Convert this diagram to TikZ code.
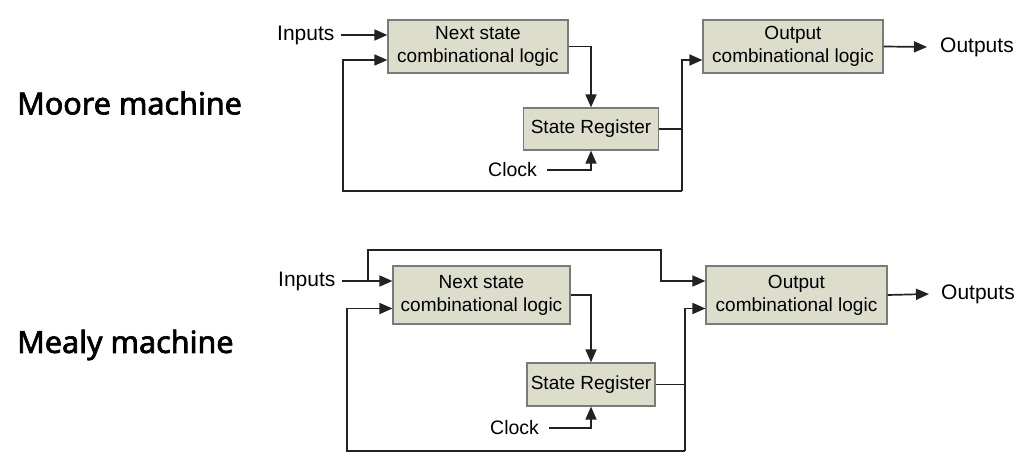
\documentclass[tikz,border=0pt]{standalone}
\usepackage{fontspec}
\setmainfont{Liberation Sans}
\newfontfamily\headfont[FakeBold=2.2]{Noto Sans}
\usetikzlibrary{arrows.meta,calc}
\definecolor{boxfill}{HTML}{DCDDCB}
\definecolor{boxline}{HTML}{7A7A7A}
\definecolor{wire}{HTML}{222222}
\tikzset{
  logicbox/.style={draw=boxline, fill=boxfill, line width=1.2pt, inner sep=0pt,
    align=center, font=\fontsize{19}{23}\selectfont},
  lbl/.style={inner sep=0pt, anchor=west, font=\fontsize{21}{23}\selectfont},
  clk/.style={inner sep=0pt, anchor=west, font=\fontsize{19.5}{23}\selectfont},
  head/.style={inner sep=0pt, anchor=west, font=\headfont\fontsize{30.5}{36}\selectfont},
  wirel/.style={draw=wire, line width=1.7pt},
  arr/.style={wirel, -{Triangle[length=13pt,width=11pt]}},
}
\begin{document}
\begin{tikzpicture}[x=1pt,y=-1pt]
\useasboundingbox (0,0) rectangle (1035,462);
% ---------- Moore ----------
\node[head] (mHead) at (17,103) {Moore machine};
\node[logicbox, minimum width=180pt, minimum height=53pt] (mNS) at (478,46.5) {Next state\\combinational logic};
\node[logicbox, minimum width=135pt, minimum height=42pt] (mSR) at (591,129) {State Register};
\node[logicbox, minimum width=180pt, minimum height=53pt] (mOut) at (793,46.5) {Output\\combinational logic};
\node[lbl] (mIn) at (277,35) {Inputs};
\node[clk] (mClk) at (488,170) {Clock};
\node[lbl] (mOutT) at (940,47) {Outputs};
\coordinate (mV) at (682,191);
\coordinate (mL) at (343,191);
\draw[arr] ([xshift=6pt]mIn.east) -- (mIn.east -| mNS.west);
\draw[arr] (mNS.east) -| (mSR.north);
\draw[arr] ([xshift=10pt]mClk.east) -| (mSR.south);
\draw[wirel] (mSR.east) -- (mSR.east -| mV);
\draw[arr] (mV) -- (mL) |- ([yshift=-13.5pt]mNS.west);
\draw[arr] (mV) |- ([yshift=-13.5pt]mOut.west);
\draw[arr] (mOut.east) -- ([xshift=-13pt]mOutT.west);
% ---------- Mealy ----------
\node[head] (eHead) at (17,345) {Mealy machine};
\node[logicbox, minimum width=177pt, minimum height=58pt] (eNS) at (481.5,295) {Next state\\combinational logic};
\node[logicbox, minimum width=128pt, minimum height=43pt] (eSR) at (591,384.5) {State Register};
\node[logicbox, minimum width=181pt, minimum height=58pt] (eOut) at (796.5,295) {Output\\combinational logic};
\node[lbl] (eIn) at (278,281) {Inputs};
\node[clk] (eClk) at (490,428) {Clock};
\node[lbl] (eOutT) at (941,294) {Outputs};
\coordinate (eJ) at (368,281);
\coordinate (eT1) at (368,250);
\coordinate (eT2) at (661,250);
\coordinate (eV) at (685,451);
\coordinate (eL) at (347,451);
\draw[arr] ([xshift=6pt]eIn.east) -- (eIn.east -| eNS.west);
\draw[arr] (eJ) -- (eT1) -- (eT2) |- ([yshift=14pt]eOut.west);
\draw[arr] (eNS.east) -| (eSR.north);
\draw[arr] ([xshift=10pt]eClk.east) -| (eSR.south);
\draw[wirel] (eSR.east) -- (eSR.east -| eV);
\draw[arr] (eV) -- (eL) |- ([yshift=-13.5pt]eNS.west);
\draw[arr] (eV) |- ([yshift=-13.5pt]eOut.west);
\draw[arr] (eOut.east) -- ([xshift=-12pt]eOutT.west);
\end{tikzpicture}
\end{document}
